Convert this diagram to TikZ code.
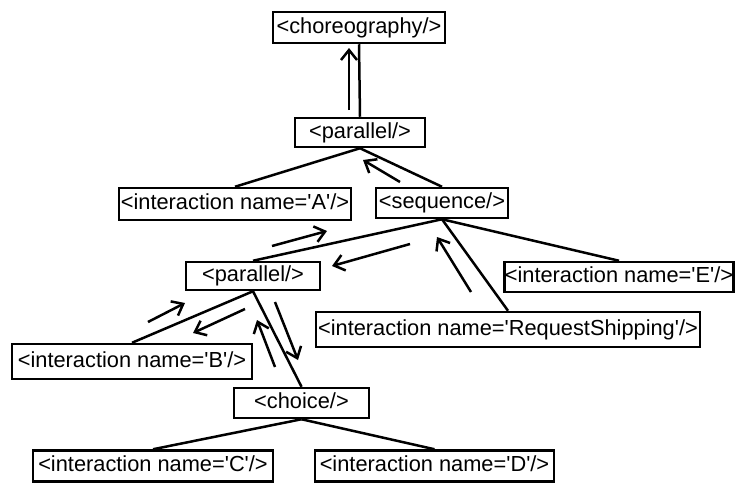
\documentclass[tikz,border=0pt]{standalone}
\usepackage{fontspec}
\setmainfont{Liberation Sans}
\usetikzlibrary{arrows.meta}
\newcommand\sq{\textquotesingle}
\begin{document}
\begin{tikzpicture}[x=1pt,y=-1pt,
  el/.style={draw,line width=2.5pt,inner sep=0pt,font=\fontsize{21.8}{24}\selectfont,
    text height=15.5pt,text depth=4.5pt,align=center},
  edge/.style={line width=2.5pt},
  flow/.style={line width=2.5pt,-{Straight Barb[length=10pt,width=16pt,line width=2.5pt]}}]
\useasboundingbox (0,0) rectangle (736,482);
\node[el,minimum width=172pt,minimum height=31pt] (cho) at (359,27.5) {<choreography/>};
\node[el,minimum width=130pt,minimum height=29pt] (p1) at (360,132.5) {<parallel/>};
\node[el,minimum width=232pt,minimum height=32pt] (A) at (235,204) {<interaction name=\sq A\sq/>};
\node[el,minimum width=132pt,minimum height=30pt] (seq) at (442,203) {<sequence/>};
\node[el,minimum width=134pt,minimum height=28pt] (p2) at (253,276) {<parallel/>};
\node[el,minimum width=229pt,minimum height=30pt] (E) at (619,277) {<interaction name=\sq E\sq/>};
\node[el,minimum width=384pt,minimum height=35pt] (RS) at (508,329.5) {<interaction name=\sq RequestShipping\sq/>};
\node[el,minimum width=240pt,minimum height=35pt] (B) at (132,361.5) {<interaction name=\sq B\sq/>};
\node[el,minimum width=135pt,minimum height=30pt] (ch) at (301.5,403) {<choice/>};
\node[el,minimum width=240pt,minimum height=31pt] (C) at (153,466) {<interaction name=\sq C\sq/>};
\node[el,minimum width=239pt,minimum height=31pt] (D) at (434.5,466) {<interaction name=\sq D\sq/>};

\draw[edge] (cho.south) -- (p1.north);
\draw[edge] (p1.south) -- (A.north);
\draw[edge] (p1.south) -- (seq.north);
\draw[edge] (seq.south) -- (p2.north);
\draw[edge] (seq.south) -- (RS.north);
\draw[edge] (seq.south) -- (E.north);
\draw[edge] (p2.south) -- (B.north);
\draw[edge] (p2.south) -- (ch.north);
\draw[edge] (ch.south) -- (C.north);
\draw[edge] (ch.south) -- (D.north);

\coordinate (a1s) at (349,110); \coordinate (a1e) at (349,48);
\coordinate (a2s) at (400,182); \coordinate (a2e) at (363,160);
\coordinate (a3s) at (272,246); \coordinate (a3e) at (327,231);
\coordinate (a4s) at (410,244); \coordinate (a4e) at (332,266);
\coordinate (a5s) at (471,292); \coordinate (a5e) at (437,237);
\coordinate (a6s) at (148,322); \coordinate (a6e) at (185,303);
\coordinate (a7s) at (245,309); \coordinate (a7e) at (193,333);
\coordinate (a8s) at (275,367); \coordinate (a8e) at (257,320);
\coordinate (a9s) at (275,302); \coordinate (a9e) at (298,360);
\foreach \i in {1,...,9} \draw[flow] (a\i s) -- (a\i e);
\end{tikzpicture}
\end{document}
